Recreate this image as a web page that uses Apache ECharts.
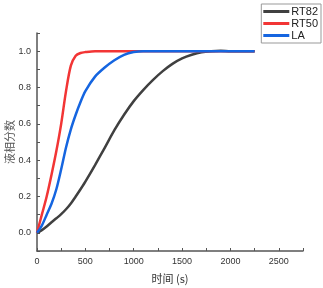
<!DOCTYPE html>
<html>
<head>
<meta charset="utf-8">
<script src="https://cdn.jsdelivr.net/npm/echarts@6/dist/echarts.min.js"></script>
<style>
  html, body { margin: 0; padding: 0; background: #fff; }
  #chart { width: 323px; height: 288px; }
</style>
</head>
<body>
<div id="chart"></div>
<script>
var time = [0, 50, 100, 150, 200, 250, 300, 350, 400, 450, 500, 600, 700, 800, 900, 1000, 1100, 1200, 1300, 1400, 1500, 1600, 1700, 1800, 1900, 2000, 2250];
var rt82 = [0, 0.015, 0.035, 0.058, 0.08, 0.103, 0.13, 0.162, 0.2, 0.24, 0.282, 0.373, 0.468, 0.565, 0.65, 0.725, 0.787, 0.842, 0.89, 0.93, 0.96, 0.98, 0.994, 1.0, 1.002, 1.0, 1.0];
var rt50 = [0, 0.10, 0.20, 0.32, 0.45, 0.60, 0.78, 0.92, 0.975, 0.99, 0.995, 1.0, 1.0, 1.0, 1.0, 1.0, 1.0, 1.0, 1.0, 1.0, 1.0, 1.0, 1.0, 1.0, 1.0, 1.0, 1.0];
var la = [0, 0.04, 0.10, 0.16, 0.24, 0.35, 0.47, 0.57, 0.65, 0.72, 0.78, 0.86, 0.91, 0.95, 0.98, 0.995, 1.0, 1.0, 1.0, 1.0, 1.0, 1.0, 1.0, 1.0, 1.0, 1.0, 1.0];

var names = ['RT82', 'RT50', 'LA'];
var colors = ['#404040', '#f23535', '#1565e0'];
var values = [rt82, rt50, la];

function pairs(ys) {
    return time.map(function (t, i) { return [t, ys[i]]; });
}

var chart = echarts.init(document.getElementById('chart'));

var option = {
    animation: false,
    textStyle: { fontFamily: 'Liberation Sans' },
    grid: { left: 37, right: 20, top: 33, bottom: 37, containLabel: false, outerBoundsMode: 'none' },
    legend: {
        orient: 'vertical',
        right: 2,
        top: 4,
        data: names,
        icon: 'rect',
        itemWidth: 26,
        itemHeight: 3,
        itemGap: 1,
        padding: [2, 3, 2, 2],
        borderColor: '#999',
        borderWidth: 1,
        textStyle: { fontSize: 11, color: '#222', padding: [0, 0, 0, -3] }
    },
    xAxis: {
        type: 'value',
        min: 0,
        max: 2750,
        interval: 250,
        name: '时间 (s)',
        nameLocation: 'middle',
        nameGap: 22,
        nameMoveOverlap: false,
        nameTextStyle: { fontFamily: 'Noto Sans CJK SC', fontSize: 11, color: '#333' },
        splitLine: { show: false },
        axisLine: { onZero: false, lineStyle: { color: '#555', width: 1.5 } },
        axisTick: { inside: true, length: 3, lineStyle: { color: '#555' } },
        axisLabel: {
            fontSize: 9,
            color: '#333',
            margin: 6,
            formatter: function (v) { return v % 500 === 0 && v <= 2500 ? String(v) : ''; }
        }
    },
    yAxis: {
        type: 'value',
        min: -0.1,
        max: 1.1,
        interval: 0.1,
        name: '液相分数',
        nameLocation: 'middle',
        nameGap: 22,
        nameMoveOverlap: false,
        nameTextStyle: { fontFamily: 'Noto Sans CJK SC', fontSize: 11, color: '#555' },
        splitLine: { show: false },
        axisLine: { lineStyle: { color: '#555', width: 1.5 } },
        axisTick: { inside: true, length: 3, lineStyle: { color: '#555' } },
        axisLabel: {
            fontSize: 9,
            color: '#333',
            margin: 6,
            formatter: function (v) {
                var k = Math.round(v * 10);
                return (k >= 0 && k <= 10 && k % 2 === 0) ? (k / 10).toFixed(1) : '';
            }
        }
    },
    series: names.map(function (n, i) {
        return {
            name: n,
            type: 'line',
            data: pairs(values[i]),
            smooth: 0.3,
            showSymbol: false,
            lineStyle: { width: 2.5, color: colors[i] },
            itemStyle: { color: colors[i] }
        };
    })
};

chart.setOption(option);
</script>
</body>
</html>
